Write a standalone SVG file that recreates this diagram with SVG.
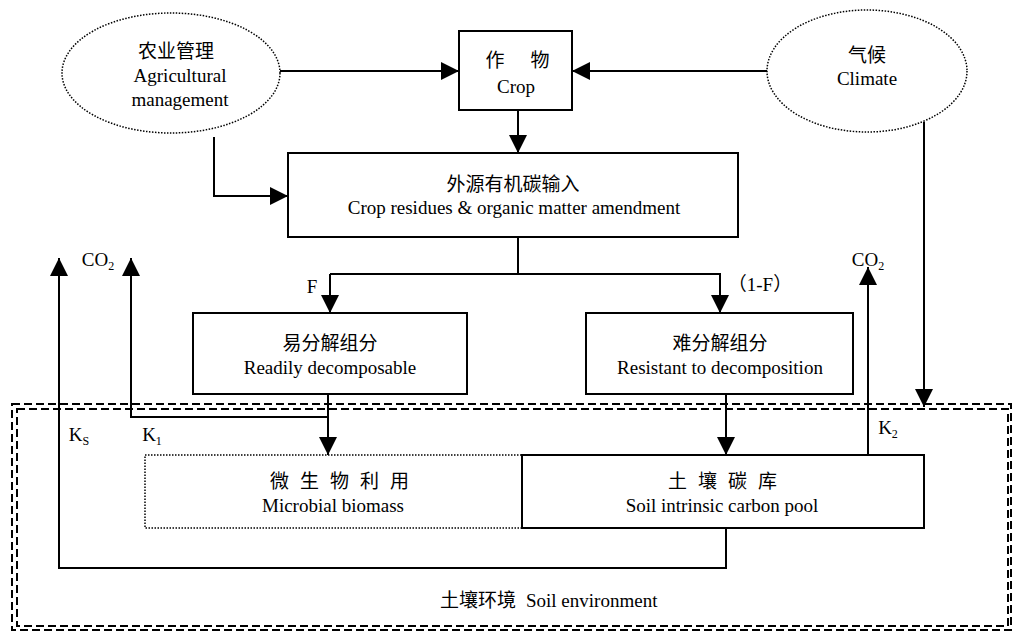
<svg xmlns="http://www.w3.org/2000/svg" width="1013" height="634" viewBox="0 0 1013 634">
<style>
text{font-family:"Liberation Serif","Noto Sans CJK SC",serif;font-size:19px;fill:#000;text-anchor:middle}
.box{fill:#fff;stroke:#000;stroke-width:2}
.dot{fill:none;stroke:#000;stroke-width:1.5;stroke-dasharray:1.5 1.5}
.ln{fill:none;stroke:#000;stroke-width:2}
.arr{marker-end:url(#ah)}
.dash{fill:none;stroke:#000;stroke-width:2;stroke-dasharray:8 4}
.sub{font-size:12px}
.st{text-anchor:start}
</style>
<defs>
<marker id="ah" markerUnits="userSpaceOnUse" markerWidth="20" markerHeight="18" refX="18" refY="9" orient="auto">
<path d="M0,0 L18,9 L0,18 Z" fill="#000"/>
</marker>
</defs>
<rect width="1013" height="634" fill="#fff"/>
<g id="soil-environment">
<rect class="dash" x="12" y="404" width="999" height="226"/>
<rect class="dash" x="17" y="409" width="991" height="217"/>
<text class="st" x="440" y="607">土壤环境</text>
<text class="st" x="526" y="607" font-size="19.5">Soil environment</text>
</g>
<g id="connectors">
<path class="ln arr" d="M280,71 H459"/>
<path class="ln arr" d="M767,71 H572"/>
<path class="ln arr" d="M518,110 V153"/>
<path class="ln arr" d="M214,137 V196 H288"/>
<path class="ln arr" d="M924,122 V407"/>
<path class="ln" d="M518,237 V274"/>
<path class="ln arr" d="M330,274 V313"/>
<path class="ln arr" d="M330,274 H720 V313"/>
<path class="ln arr" d="M328,394 V455"/>
<path class="ln arr" d="M328,417 H131 V258"/>
<path class="ln arr" d="M726,528 V568 H59 V258"/>
<path class="ln arr" d="M726,394 V455"/>
<path class="ln arr" d="M868,455 V267"/>
<text x="312" y="293">F</text>
<text x="760" y="291">（1-F）</text>
<text x="98" y="266">CO<tspan class="sub" dy="4">2</tspan></text>
<text x="868" y="266">CO<tspan class="sub" dy="4">2</tspan></text>
<text x="79" y="441">K<tspan class="sub" dy="4">S</tspan></text>
<text x="152" y="441">K<tspan class="sub" dy="4">1</tspan></text>
<text x="888" y="434">K<tspan class="sub" dy="4">2</tspan></text>
</g>
<g id="agri">
<ellipse class="dot" cx="171" cy="73" rx="109" ry="60"/>
<text x="176" y="58">农业管理</text>
<text x="180" y="82">Agricultural</text>
<text x="180" y="106">management</text>
</g>
<g id="crop">
<rect class="box" x="459" y="31" width="113" height="79"/>
<text x="495" y="67">作</text>
<text x="540" y="67">物</text>
<text x="516" y="93">Crop</text>
</g>
<g id="climate">
<ellipse class="dot" cx="867" cy="71" rx="100" ry="61"/>
<text x="867" y="62">气候</text>
<text x="867" y="85">Climate</text>
</g>
<g id="input">
<rect class="box" x="288" y="153" width="450" height="84"/>
<text x="513" y="191">外源有机碳输入</text>
<text x="514" y="214" font-size="19.8">Crop residues &amp; organic matter amendment</text>
</g>
<g id="readily">
<rect class="box" x="193" y="313" width="274" height="81"/>
<text x="330" y="350">易分解组分</text>
<text x="330" y="374">Readily decomposable</text>
</g>
<g id="resistant">
<rect class="box" x="586" y="313" width="267" height="81"/>
<text x="720" y="350">难分解组分</text>
<text x="720" y="374">Resistant to decomposition</text>
</g>
<g id="microbial">
<rect class="dot" x="145" y="455" width="377" height="73"/>
<text class="st" x="270" y="488" letter-spacing="11">微生物利用</text>
<text x="333" y="512">Microbial biomass</text>
</g>
<g id="soilpool">
<rect class="box" x="522" y="455" width="402" height="73"/>
<text class="st" x="668" y="488" letter-spacing="11">土壤碳库</text>
<text x="722" y="512">Soil intrinsic carbon pool</text>
</g>
</svg>
